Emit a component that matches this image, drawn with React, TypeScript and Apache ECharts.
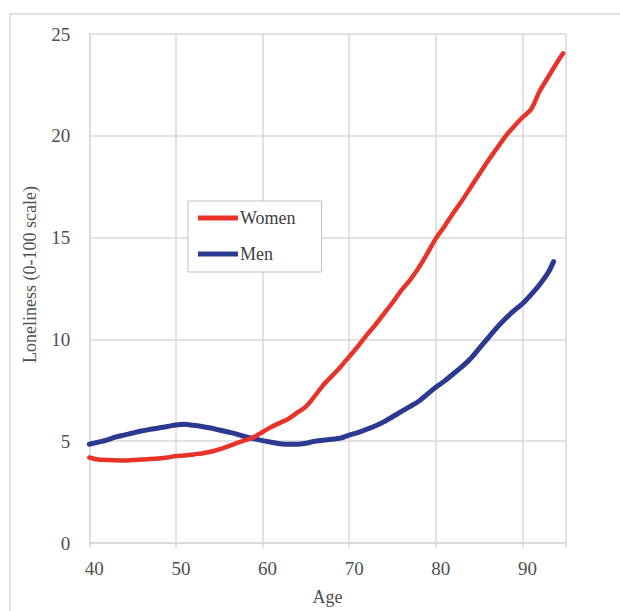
import React, { useEffect, useRef } from "react";
import * as echarts from "echarts";

const womenAges = [40, 41, 42, 43, 44, 45, 46, 47, 48, 49, 50, 51, 52, 53, 54, 55, 56, 57, 58, 59, 60, 61, 62, 63, 64, 65, 66, 67, 68, 69, 70, 71, 72, 73, 74, 75, 76, 77, 78, 79, 80, 81, 82, 83, 84, 85, 86, 87, 88, 89, 90, 91, 92, 93, 94, 94.7];
const women = [4.2, 4.1, 4.08, 4.06, 4.05, 4.08, 4.1, 4.12, 4.15, 4.2, 4.27, 4.3, 4.35, 4.4, 4.48, 4.6, 4.75, 4.9, 5.05, 5.2, 5.45, 5.7, 5.9, 6.1, 6.4, 6.7, 7.2, 7.75, 8.2, 8.65, 9.15, 9.65, 10.2, 10.7, 11.25, 11.8, 12.4, 12.9, 13.5, 14.2, 14.95, 15.55, 16.2, 16.8, 17.45, 18.1, 18.75, 19.35, 19.95, 20.45, 20.9, 21.3, 22.2, 22.9, 23.6, 24.05];

const menAges = [40, 41, 42, 43, 44, 45, 46, 47, 48, 49, 50, 51, 52, 53, 54, 55, 56, 57, 58, 59, 60, 61, 62, 63, 64, 65, 66, 67, 68, 69, 70, 71, 72, 73, 74, 75, 76, 77, 78, 79, 80, 81, 82, 83, 84, 85, 86, 87, 88, 89, 90, 91, 92, 93, 93.6];
const men = [4.85, 4.95, 5.05, 5.2, 5.3, 5.4, 5.5, 5.58, 5.65, 5.72, 5.8, 5.83, 5.78, 5.72, 5.65, 5.55, 5.45, 5.35, 5.22, 5.12, 5.03, 4.95, 4.88, 4.85, 4.85, 4.9, 5.0, 5.05, 5.1, 5.15, 5.3, 5.42, 5.58, 5.75, 5.95, 6.2, 6.45, 6.7, 6.95, 7.3, 7.65, 7.95, 8.3, 8.65, 9.05, 9.55, 10.05, 10.55, 11.0, 11.4, 11.75, 12.2, 12.7, 13.3, 13.82];

const xTicks = [40, 50, 60, 70, 80, 90];
const yTicks = [0, 5, 10, 15, 20, 25];

const FONT = "Liberation Serif";
const GRID_COLOR = "#d9d9d9";
const LABEL_COLOR = "#505050";

export default function App() {
  const ref = useRef<HTMLDivElement>(null);
  useEffect(() => {
    if (!ref.current) return;
    const chart = echarts.init(ref.current, undefined, { renderer: "svg" });
    chart.setOption({
      animation: false,
      backgroundColor: "#ffffff",
      textStyle: { fontFamily: FONT },
      graphic: [
        {
          type: "rect",
          shape: { x: 10, y: 14, width: 700, height: 700 },
          style: { fill: "none", stroke: "#dcdcdc", lineWidth: 1.5 },
          z: -1,
        },
      ],
      grid: { left: 89.3, top: 34, right: 54.3, bottom: 62.7, containLabel: false },
      legend: {
        orient: "vertical",
        left: 188,
        top: 201,
        padding: [8, 26, 9, 10],
        itemGap: 18,
        itemWidth: 40,
        itemHeight: 5,
        icon: "rect",
        backgroundColor: "#ffffff",
        borderColor: "#bfbfbf",
        borderWidth: 1,
        textStyle: { fontFamily: FONT, fontSize: 18, color: "#404040", padding: [0, 0, 0, -3] },
        data: ["Women", "Men"],
      },
      xAxis: {
        type: "value",
        min: 40,
        max: 95,
        interval: 10,
        name: "Age",
        nameLocation: "middle",
        nameGap: 45,
        nameTextStyle: { fontFamily: FONT, fontSize: 18, color: LABEL_COLOR },
        axisLine: { show: true, lineStyle: { color: GRID_COLOR, width: 1.5 } },
        axisTick: { show: true, length: 5, lineStyle: { color: GRID_COLOR, width: 1.5 } },
        axisLabel: {
          fontFamily: FONT,
          fontSize: 19,
          color: LABEL_COLOR,
          margin: 16,
          padding: [0, 0, 0, 10],
          formatter: (v: number) => (xTicks.includes(v) ? String(v) : ""),
        },
        splitLine: { show: true, lineStyle: { color: GRID_COLOR, width: 1.5 } },
      },
      yAxis: {
        type: "value",
        min: 0,
        max: 25,
        interval: 5,
        name: "Loneliness (0-100 scale)",
        nameLocation: "middle",
        nameRotate: 90,
        nameGap: 50,
        nameTextStyle: { fontFamily: FONT, fontSize: 18, color: LABEL_COLOR, padding: [0, 0, 0, 28] },
        axisLine: { show: true, lineStyle: { color: GRID_COLOR, width: 1.5 } },
        axisTick: { show: false },
        axisLabel: {
          fontFamily: FONT,
          fontSize: 19,
          color: LABEL_COLOR,
          margin: 19,
          formatter: (v: number) => (yTicks.includes(v) ? String(v) : ""),
        },
        splitLine: { show: true, lineStyle: { color: GRID_COLOR, width: 1.5 } },
      },
      series: [
        {
          name: "Women",
          type: "line",
          showSymbol: false,
          smooth: 0.3,
          color: "#e8332a",
          lineStyle: { width: 4.5, color: "#e8332a", cap: "round" },
          data: womenAges.map((a, i) => [a, women[i]]),
          z: 3,
        },
        {
          name: "Men",
          type: "line",
          showSymbol: false,
          smooth: 0.3,
          color: "#2b3990",
          lineStyle: { width: 5, color: "#2b3990", cap: "round" },
          data: menAges.map((a, i) => [a, men[i]]),
          z: 2,
        },
      ],
    });
    return () => chart.dispose();
  }, []);
  return (
    <div
      ref={ref}
      style={{ position: "fixed", left: 0, top: 0, width: 620, height: 611, background: "#fff" }}
    />
  );
}
